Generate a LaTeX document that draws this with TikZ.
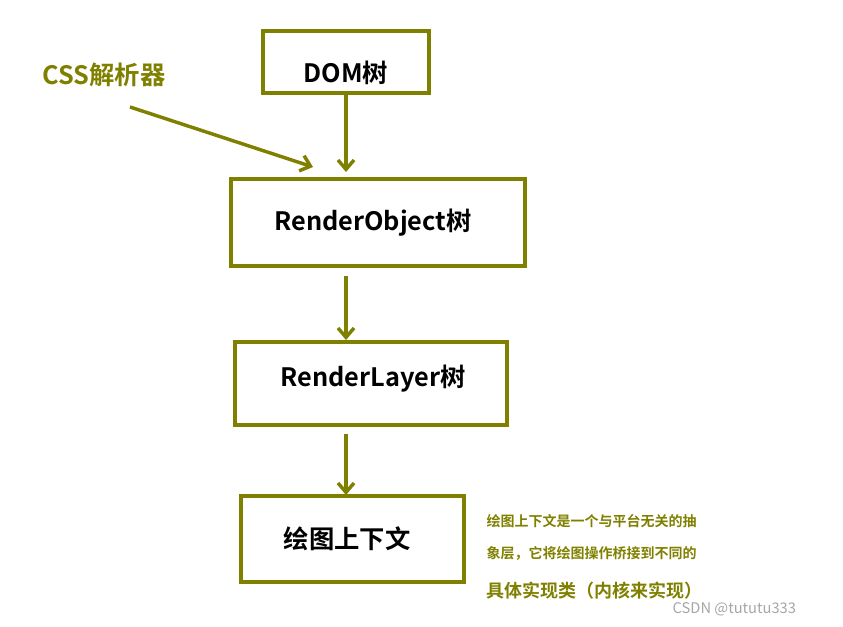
\documentclass[tikz,border=0pt]{standalone}
\usepackage{fontspec}
\setmainfont{Noto Sans CJK SC}[BoldFont={* Bold}]
\usetikzlibrary{arrows.meta}
\definecolor{ol}{HTML}{808000}
\begin{document}
\begin{tikzpicture}[x=0.75pt,y=-0.75pt,
 box/.style={draw=ol,line width=3pt,inner sep=0pt},
 lab/.style={font=\fontsize{19}{22}\selectfont\bfseries},
 arr/.style={draw=ol,line width=2.6pt,-{Straight Barb[length=7pt,width=12pt]}}]
\useasboundingbox (0,0) rectangle (843,627);
\node[box,minimum width=124.5pt,minimum height=46.5pt] (dom) at (346,62) {};
\node[lab] at (346,73) {DOM树};
\node[box,minimum width=220.5pt,minimum height=65pt] (ro) at (378,222.5) {};
\node[lab] at (373,223) {RenderObject树};
\node[box,minimum width=204pt,minimum height=62pt] (rl) at (371,383.5) {};
\node[lab] at (373,379) {RenderLayer树};
\node[box,minimum width=167pt,minimum height=64.5pt] (ctx) at (352.5,539) {};
\node[lab] at (347,539) {绘图上下文};
\coordinate (a1) at (346,93); \coordinate (b1) at (346,172);
\coordinate (a2) at (346,276); \coordinate (b2) at (346,340);
\coordinate (a3) at (346,434); \coordinate (b3) at (346,495);
\draw[arr] (a1) -- (b1);
\draw[arr] (a2) -- (b2);
\draw[arr] (a3) -- (b3);
\node[lab,text=ol] (css) at (104,75) {CSS解析器};
\coordinate (c0) at (130,107); \coordinate (c1) at (313,167);
\draw[arr] (c0) -- (c1);
\node[anchor=west,text=ol,font=\fontsize{10.5}{12}\selectfont\bfseries] (t1) at (482,521) {绘图上下文是一个与平台无关的抽};
\node[anchor=west,text=ol,font=\fontsize{10.5}{12}\selectfont\bfseries] (t2) at (482,553) {象层，它将绘图操作桥接到不同的};
\node[anchor=west,text=ol,font=\fontsize{13.5}{15}\selectfont\bfseries] (t3) at (482,591) {具体实现类（内核来实现）};
\node[anchor=west,text=gray!70,font=\fontsize{11}{13}\selectfont] (wm) at (668,609) {CSDN @tututu333};
\end{tikzpicture}
\end{document}
